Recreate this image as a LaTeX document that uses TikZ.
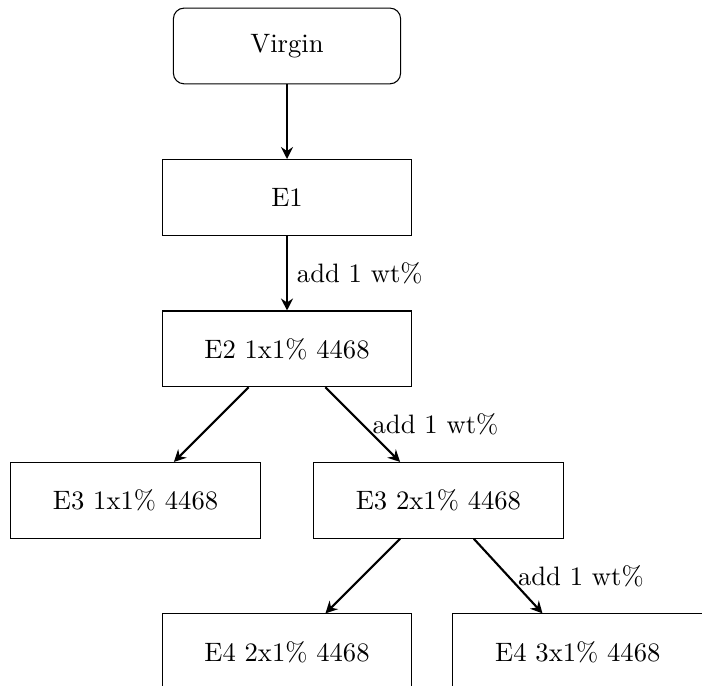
\documentclass[tikz,border=0pt]{standalone}
\usepackage{amsmath}
\usetikzlibrary{positioning, arrows.meta}

\tikzset{
  startbox/.style = {draw, rounded corners, minimum width=3cm, minimum height=1cm},
  stagebox/.style = {draw, minimum width=3.3cm, minimum height=1cm},
  flow/.style = {-{Stealth[length=4.5pt, width=4.5pt, inset=1.5pt]}, thick}
}

\begin{document}
\begin{tikzpicture}
  \useasboundingbox (-3.79,0.607) rectangle (5.48,-8.45);

  \node[startbox] (virgin) at (0,0) {Virgin};
  \node[stagebox] (e1) at (0,-2) {E1};
  \node[stagebox] (e2) at (0,-4) {E2 1x1\% 4468};
  \node[stagebox] (e3a) at (-2,-6) {E3 1x1\% 4468};
  \node[stagebox] (e3b) at (2,-6) {E3 2x1\% 4468};
  \node[stagebox] (e4a) at (0,-8) {E4 2x1\% 4468};
  \node[stagebox] (e4b) at (3.84,-8) {E4 3x1\% 4468};

  \draw[flow] (virgin) -- (e1);
  \draw[flow] (e1) -- (e2) node[midway, right]{add 1 wt\%};
  \draw[flow] (e2) -- (e3a);
  \draw[flow] (e2) -- (e3b) node[midway, right]{add 1 wt\%};
  \draw[flow] (e3b) -- (e4a);
  \draw[flow] (e3b) -- (e4b) node[midway, right]{add 1 wt\%};
\end{tikzpicture}
\end{document}
